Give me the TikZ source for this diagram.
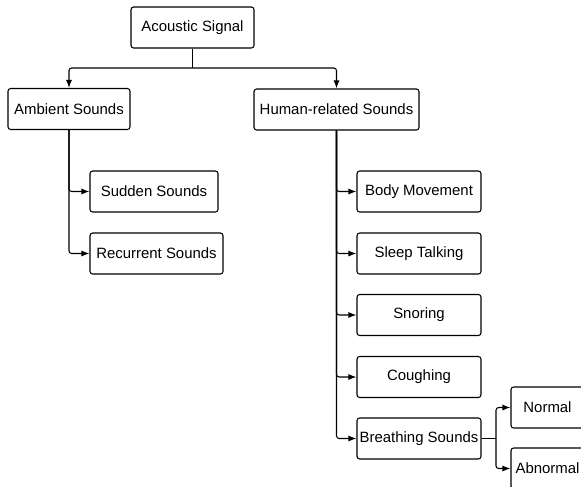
\documentclass[tikz,border=0pt]{standalone}
\usepackage{fontspec}
\setmainfont{Liberation Sans}
\usetikzlibrary{arrows.meta}

\begin{document}
\begin{tikzpicture}[x=0.75pt,y=-0.75pt,
		box/.style={draw,line width=0.8pt,rounded corners=2pt,minimum height=30.75pt,
			inner sep=0pt,font=\fontsize{11.2}{13}\selectfont},
		col/.style={box,minimum width=93pt},
		arr/.style={-{Latex[length=6pt,width=4.5pt]},line width=0.8pt,rounded corners=2pt}]
		\useasboundingbox (0,0) rectangle (581,486);
		\clip (0,0) rectangle (581,486);
		% top levels
		\node[box,minimum width=92.25pt](sig) at (192.5,27.5){Acoustic Signal};
		\node[box,minimum width=91.5pt](amb) at (69,109){Ambient Sounds};
		\node[box,minimum width=123.75pt](hum) at (336.5,109.5){Human-related Sounds};
		% ambient
		\node[box,minimum width=96pt](sud) at (154,191.5){Sudden Sounds};
		\node[box,minimum width=99.75pt](rec) at (156.5,253.5){Recurrent Sounds};
		% human-related
		\node[col](body) at (419,191.5){Body Movement};
		\node[col](talk) at (419,253.5){Sleep Talking};
		\node[col](snore) at (419,315){Snoring};
		\node[col](cough) at (419,377){Coughing};
		\node[col](breath) at (419,438.5){Breathing Sounds};
		% breathing
		\node[box,minimum width=54.75pt](norm) at (547.5,407.5){Normal};
		\node[box,minimum width=54.75pt](abn) at (547.5,468.5){Abnormal};

		\coordinate (split) at (192.5,68);
		\coordinate (fork) at (496,438.5);
		\draw[line width=0.8pt] (sig.south) -- (split);
		\draw[arr] (split) -| (amb.north);
		\draw[arr] (split) -| (hum.north);
		\draw[arr] (amb.south) |- (sud.west);
		\draw[arr] (amb.south) |- (rec.west);
		\draw[arr] (hum.south) |- (body.west);
		\draw[arr] (hum.south) |- (talk.west);
		\draw[arr] (hum.south) |- (snore.west);
		\draw[arr] (hum.south) |- (cough.west);
		\draw[arr] (hum.south) |- (breath.west);
		\draw[line width=0.8pt] (breath.east) -- (fork);
		\draw[arr] (fork) |- (norm.west);
		\draw[arr] (fork) |- (abn.west);
	\end{tikzpicture}
\end{document}
